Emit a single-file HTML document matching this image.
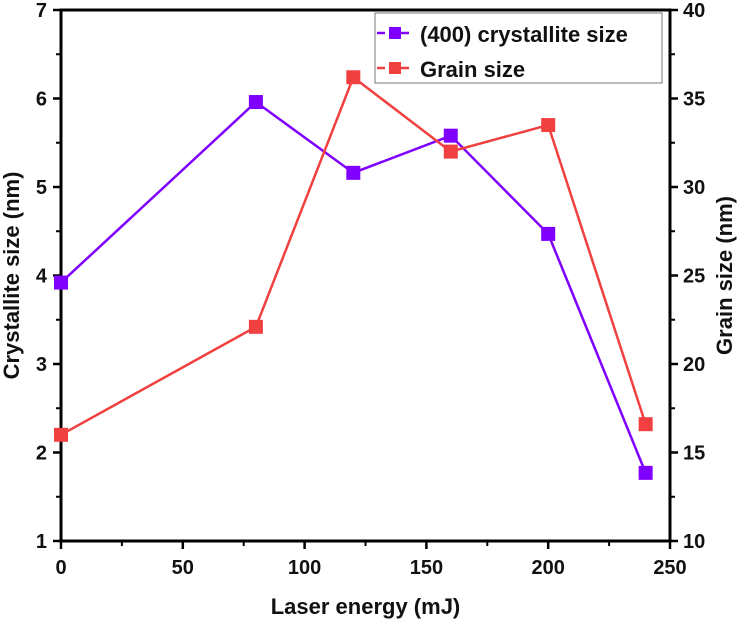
<!DOCTYPE html>
<html><head><meta charset="utf-8"><style>
body{margin:0;background:#fff;}
svg text{font-family:"Liberation Sans",Arial,sans-serif;font-weight:bold;fill:#111;}
</style></head><body>
<svg id="chart" width="740" height="631" xmlns="http://www.w3.org/2000/svg">
<g id="axes"></g><g id="series"></g>
<g>
<rect x="375" y="13" width="287" height="70" fill="#fff" stroke="#777" stroke-width="1"/>
<line x1="377" y1="33" x2="413" y2="33" stroke="#8000ff" stroke-width="2.5" stroke-dasharray="8,4"/>
<rect x="389" y="27" width="12" height="12" fill="#8000ff"/>
<text x="420" y="42" font-size="22">(400) crystallite size</text>
<line x1="377" y1="68" x2="413" y2="68" stroke="#f04040" stroke-width="2.5" stroke-dasharray="8,4"/>
<rect x="389" y="62" width="12" height="12" fill="#f04040"/>
<text x="420" y="77" font-size="22">Grain size</text>
</g>
</svg>
<script>
const energies=[0,80,120,160,200,240];
const crystallite=[3.92,5.96,5.16,5.58,4.47,1.77];
const grain=[16.0,22.1,36.2,32.0,33.5,16.6];
const xTicks=[0,50,100,150,200,250];
const yLeftTicks=[1,2,3,4,5,6,7];
const yRightTicks=[10,15,20,25,30,35,40];
const L=61,R=670,T=10,B=541;
const sx=v=>L+(v-0)/250*(R-L);
const syl=v=>B-(v-1)/6*(B-T);
const syr=v=>B-(v-10)/30*(B-T);
const NS="http://www.w3.org/2000/svg";
function mk(tag,attrs,parent){const e=document.createElementNS(NS,tag);for(const k in attrs)e.setAttribute(k,attrs[k]);parent.appendChild(e);return e;}
const ax=document.getElementById('axes'),se=document.getElementById('series');
const frame=mk('rect',{x:L,y:T,width:R-L,height:B-T,fill:'none',stroke:'#000','stroke-width':3},ax);


xTicks.forEach(v=>{const x=sx(v);
 mk('line',{x1:x,y1:B,x2:x,y2:B+8,stroke:'#000','stroke-width':2.5},ax);
 const m=sx(v+25); if(v<250) mk('line',{x1:m,y1:B,x2:m,y2:B+5,stroke:'#000','stroke-width':2},ax);
 const t=mk('text',{x:x,y:B+33,'font-size':20,'text-anchor':'middle'},ax);t.textContent=v;
 
 });
yLeftTicks.forEach(v=>{const y=syl(v);
 mk('line',{x1:L-8,y1:y,x2:L,y2:y,stroke:'#000','stroke-width':2.5},ax);
 if(v<7) mk('line',{x1:L-5,y1:syl(v+0.5),x2:L,y2:syl(v+0.5),stroke:'#000','stroke-width':2},ax);
 const t=mk('text',{x:L-14,y:y+7,'font-size':20,'text-anchor':'end'},ax);t.textContent=v;
 
 });
yRightTicks.forEach(v=>{const y=syr(v);
 mk('line',{x1:R,y1:y,x2:R+8,y2:y,stroke:'#000','stroke-width':2.5},ax);
 if(v<40) mk('line',{x1:R,y1:syr(v+2.5),x2:R+5,y2:syr(v+2.5),stroke:'#000','stroke-width':2},ax);
 const t=mk('text',{x:R+13,y:y+7,'font-size':20},ax);t.textContent=v;
 
 });
let t=mk('text',{x:(L+R)/2,y:614,'font-size':22,'text-anchor':'middle'},ax);t.textContent='Laser energy (mJ)';


t=mk('text',{x:0,y:0,'font-size':22,'text-anchor':'middle',transform:`translate(19,${(T+B)/2}) rotate(-90)`},ax);t.textContent='Crystallite size (nm)';


t=mk('text',{x:0,y:0,'font-size':22,'text-anchor':'middle',transform:`translate(732,${(T+B)/2}) rotate(-90)`},ax);t.textContent='Grain size (nm)';


function series(vals,sy,color,name){
 const pts=energies.map((e,i)=>sx(e)+','+sy(vals[i])).join(' ');
 const pl=mk('polyline',{points:pts,fill:'none',stroke:color,'stroke-width':2.5},se);
 
 
 energies.forEach((e,i)=>{const r=mk('rect',{x:sx(e)-7,y:sy(vals[i])-7,width:14,height:14,fill:color},se);
  
  });
}
series(crystallite,syl,'#8000ff','crystallite');
series(grain,syr,'#f04040','grain');
</script>
</body></html>
